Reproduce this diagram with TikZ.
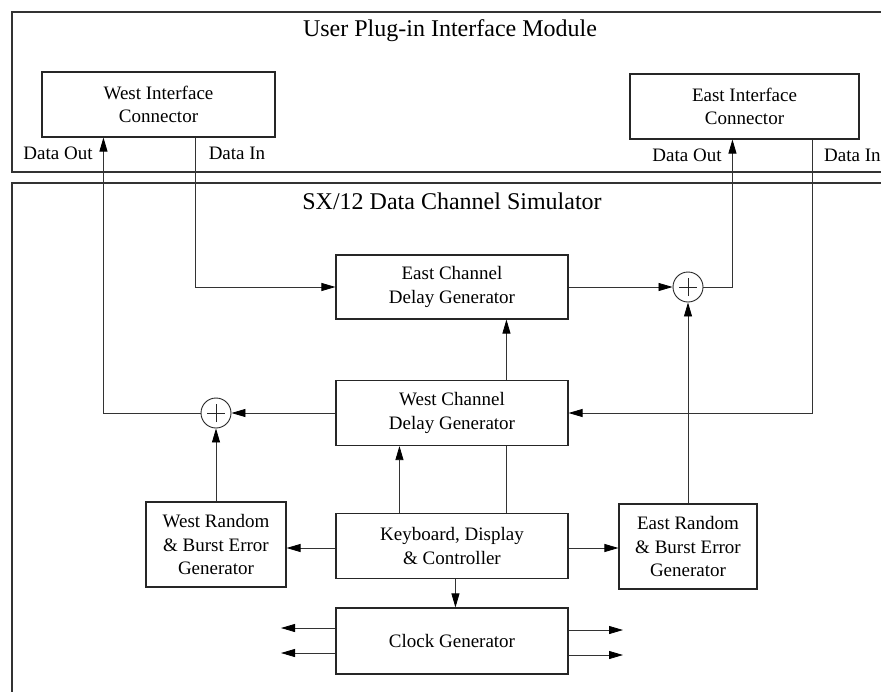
\documentclass[tikz,border=0pt]{standalone}
\usepackage{fontspec}
\setmainfont{Liberation Serif}
\usetikzlibrary{arrows.meta,calc}
\begin{document}
\begin{tikzpicture}[x=1pt,y=-1pt,
  frame/.style={draw=black!80, line width=1.1pt},
  blk/.style={draw=black!85, line width=1.1pt, align=center, inner sep=0pt,
    font=\fontsize{19}{23.5}\selectfont},
  lbl/.style={font=\fontsize{19}{23}\selectfont, inner sep=0pt},
  ttl/.style={font=\fontsize{24}{28}\selectfont, inner sep=0pt},
  wire/.style={draw=black!80, line width=0.8pt},
  arr/.style={wire, -{Triangle[length=14pt,width=8pt,fill=black,color=black]}},
  sum/.style={circle, draw=black!85, line width=0.9pt, minimum size=30pt, inner sep=0pt,
    path picture={
      \draw[line width=0.6pt] ([yshift=-9pt]path picture bounding box.center) -- ([yshift=9pt]path picture bounding box.center);
      \draw[line width=0.6pt] ([xshift=-9pt]path picture bounding box.center) -- ([xshift=9pt]path picture bounding box.center);}}
]
\path[use as bounding box, clip] (0,0) rectangle (881,691);
\fill[white] (0,0) rectangle (881,691);

% enclosures
\draw[frame] (12,12) rectangle (905,172);
\draw[frame] (12,183) rectangle (905,720);
\node[ttl] (umod) at (450,31) {User Plug-in Interface Module};
\node[ttl] (sxsim) at (452,201) {SX/12 Data Channel Simulator};

% interface connectors
\node[blk, minimum width=233pt, minimum height=65pt] (wic) at (158.5,104.5) {West Interface\\Connector};
\node[blk, minimum width=229pt, minimum height=65pt] (eic) at (744.5,106.5) {East Interface\\Connector};

% simulator blocks
\node[blk, minimum width=232pt, minimum height=64pt] (ecd) at (452,287) {East Channel\\Delay Generator};
\node[blk, minimum width=232pt, minimum height=65pt] (wcd) at (452,413) {West Channel\\Delay Generator};
\node[blk, minimum width=232pt, minimum height=65pt] (kdc) at (452,546) {Keyboard, Display\\\& Controller};
\node[blk, minimum width=232pt, minimum height=66pt] (clk) at (452,641) {Clock Generator};
\node[blk, minimum width=140pt, minimum height=85pt] (wre) at (216,544.5) {West Random\\\& Burst Error\\Generator};
\node[blk, minimum width=138pt, minimum height=85pt] (ere) at (688,546.5) {East Random\\\& Burst Error\\Generator};

% error summing junctions
\node[sum] (esum) at (688,287) {};
\node[sum] (wsum) at (216,413) {};

% port labels
\node[lbl] (wdo) at (58,153) {Data Out};
\node[lbl] (wdi) at (237,153) {Data In};
\node[lbl] (edo) at (687,155) {Data Out};
\node[lbl, anchor=west] (edi) at (824,155) {Data In};

% east data path
\draw[arr] ([xshift=154pt]wic.south west) |- (ecd.west);
\draw[arr] (ecd.east) -- (esum.west);
\draw[arr] (esum.east) -| ([xshift=103pt]eic.south west);
\draw[arr] (ere.north) -- (esum.south);

% west data path
\draw[arr] ([xshift=183pt]eic.south west) |- (wcd.east);
\draw[arr] (wcd.west) -- (wsum.east);
\draw[arr] (wsum.west) -| ([xshift=62pt]wic.south west);
\draw[arr] (wre.north) -- (wsum.south);

% control lines
\draw[arr] ([xshift=171pt]wcd.north west) -- ([xshift=171pt]ecd.south west);
\draw[wire] ([xshift=171pt]kdc.north west) -- ([xshift=171pt]wcd.south west);
\draw[arr] ([xshift=64pt]kdc.north west) -- ([xshift=64pt]wcd.south west);
\draw[arr] ([yshift=-2pt]kdc.west) -- ([yshift=-2pt]kdc.west -| wre.east);
\draw[arr] ([yshift=-2pt]kdc.east) -- ([yshift=-2pt]kdc.east -| ere.west);
\draw[arr] ([xshift=120pt]kdc.south west) -- ([xshift=120pt]clk.north west);

% clock outputs
\coordinate (cl1) at (281,628);
\coordinate (cl2) at (281,653);
\coordinate (cr1) at (623,630);
\coordinate (cr2) at (623,655);
\draw[arr] (clk.west |- cl1) -- (cl1);
\draw[arr] (clk.west |- cl2) -- (cl2);
\draw[arr] (clk.east |- cr1) -- (cr1);
\draw[arr] (clk.east |- cr2) -- (cr2);
\end{tikzpicture}
\end{document}
